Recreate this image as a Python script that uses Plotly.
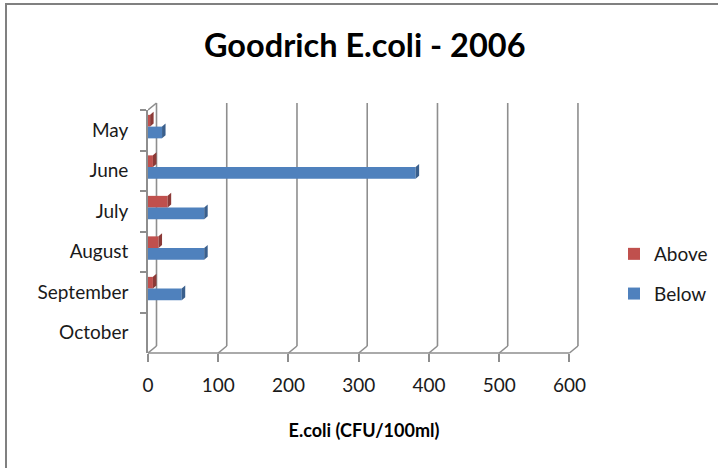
import plotly.graph_objects as go

# ---- data ----
months = ["May", "June", "July", "August", "September", "October"]
above = [3, 7, 28, 15, 7, 0]
below = [20, 381, 80, 80, 48, 0]
x_ticks = [0, 100, 200, 300, 400, 500, 600]
series_names = ["Above", "Below"]
title_text = "Goodrich E.coli - 2006"
x_title = "E.coli (CFU/100ml)"

# ---- style ----
RED, BLUE = "#C0504D", "#4F81BD"
RED_SIDE, BLUE_SIDE = "#8C3A37", "#3A5F8C"
GRID = "#8E8E8E"
FONT = "Lato"
W, S = 0.29, 0.09          # bar thickness / shift (category units)
DX, DY = 8.5, 7            # 3-D depth in pixels
BACK_H = 250               # back wall height in pixels
SIDE_PX, SIDE_D = 3.5, 0.075

fig = go.Figure()
for name, vals, col, off in [(series_names[0], above, RED, -S - W),
                             (series_names[1], below, BLUE, -S)]:
    fig.add_trace(go.Bar(
        y=months, x=vals, orientation="h", name=name,
        marker=dict(color=col, line=dict(width=0)),
        width=W, offset=off, legendgroup=name,
    ))

shapes = []
# side faces of the 3-D bars
for vals, side, off in [(above, RED_SIDE, -S - W), (below, BLUE_SIDE, -S)]:
    for i, v in enumerate(vals):
        if v <= 0:
            continue
        top, bot = i + off, i + off + W
        shapes.append(dict(
            type="path", xref="x", yref="y", xsizemode="pixel", xanchor=v,
            path=f"M0,{bot} L0,{top} L{SIDE_PX},{top - SIDE_D} L{SIDE_PX},{bot - SIDE_D} Z",
            fillcolor=side, line=dict(width=0), layer="above"))

# back-wall gridlines with perspective slant
for v in x_ticks:
    shapes.append(dict(type="line", xref="x", yref="paper",
                       xsizemode="pixel", ysizemode="pixel", xanchor=v, yanchor=0,
                       x0=DX, x1=DX, y0=DY, y1=BACK_H,
                       line=dict(color=GRID, width=1.6), layer="below"))
    shapes.append(dict(type="line", xref="x", yref="paper",
                       xsizemode="pixel", ysizemode="pixel", xanchor=v, yanchor=0,
                       x0=0, x1=DX, y0=0, y1=DY,
                       line=dict(color=GRID, width=1.6), layer="below"))
# top slant of the side wall
shapes.append(dict(type="line", xref="x", yref="paper",
                   xsizemode="pixel", ysizemode="pixel", xanchor=0, yanchor=1,
                   x0=0, x1=DX, y0=0, y1=DY,
                   line=dict(color=GRID, width=1.6), layer="below"))
# floor front line
shapes.append(dict(type="line", xref="x", yref="paper",
                   x0=x_ticks[0], x1=x_ticks[-1], y0=0, y1=0,
                   line=dict(color=GRID, width=1.6), layer="below"))
# chart border
shapes.append(dict(type="rect", xref="paper", yref="paper",
                   xsizemode="pixel", ysizemode="pixel", xanchor=0, yanchor=1,
                   x0=-142, x1=580, y0=106, y1=-370,
                   line=dict(color="#808080", width=2), fillcolor="rgba(0,0,0,0)"))

fig.update_layout(
    width=718, height=468,
    margin=dict(l=148, r=138, t=110, b=115, autoexpand=False),
    paper_bgcolor="white", plot_bgcolor="white",
    barmode="overlay",
    font=dict(family=FONT, size=19, color="#1a1a1a"),
    title=dict(text=title_text, x=0.508, xref="container", xanchor="center",
               y=1 - 46 / 468, yref="container", yanchor="middle",
               font=dict(family=FONT, size=32.5, weight="bold", color="black")),
    xaxis=dict(range=[0, 615], tickvals=x_ticks, ticks="outside", ticklen=8,
               tickcolor=GRID, tickwidth=1.6, showgrid=False, showline=False,
               zeroline=False, ticklabelstandoff=7, automargin=False,
               title=dict(text=x_title, standoff=29,
                          font=dict(family=FONT, size=18, weight="bold", color="black"))),
    yaxis=dict(type="category", categoryorder="array", categoryarray=months,
               range=[5.5, -0.5], tickson="boundaries", ticks="outside", ticklen=6,
               tickcolor=GRID, tickwidth=1.6, showline=True, linecolor=GRID,
               linewidth=1.6, showgrid=False, zeroline=False, ticklabelstandoff=14,
               automargin=False),
    legend=dict(x=(614 - 148) / 432, xanchor="left", y=(353 - 274) / 243,
                yanchor="middle", traceorder="grouped", tracegroupgap=12,
                font=dict(family=FONT, size=19), bgcolor="rgba(0,0,0,0)"),
    shapes=shapes,
    showlegend=True,
)

fig.write_html("out.html", config={"displayModeBar": False},
               post_script="document.body.style.margin='0';document.body.style.overflow='hidden';")
